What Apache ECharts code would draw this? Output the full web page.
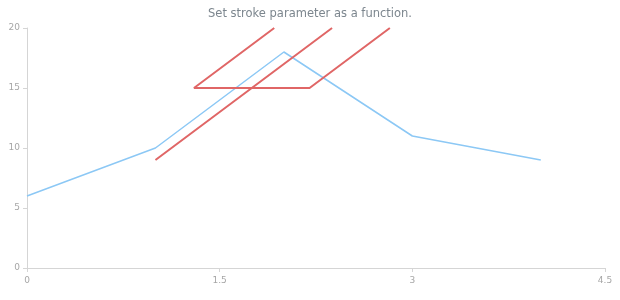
<!DOCTYPE html>
<html>
<head>
<meta charset="utf-8">
<script src="https://cdn.jsdelivr.net/npm/echarts@6/dist/echarts.min.js"></script>
<style>
html,body{margin:0;padding:0;background:#fff;}
#c{width:620px;height:300px;}
</style>
</head>
<body>
<div id="c"></div>
<script>
var titleText = 'Set stroke parameter as a function.';
var xTicks = [0, 1.5, 3, 4.5];
var yTicks = [0, 5, 10, 15, 20];
var blueX = [0, 1, 2, 3, 4];
var blueY = [6, 10, 18, 11, 9];
// red stroke: three pieces separated by gaps (null)
var redX = [1, 2.375, null, 1.925, 1.3, 2.2, 2.825];
var redY = [9, 20, null, 20, 15, 15, 20];

function pairs(xs, ys) {
  return xs.map(function (x, i) {
    return (x === null || ys[i] === null) ? [null, null] : [x, ys[i]];
  });
}

var chart = echarts.init(document.getElementById('c'), null, {renderer: 'canvas'});
chart.setOption({
  animation: false,
  backgroundColor: '#ffffff',
  title: {
    text: titleText,
    left: 'center',
    top: 3,
    textStyle: {fontFamily: 'DejaVu Sans', fontSize: 11.5, fontWeight: 'normal', color: '#7c868e'}
  },
  grid: {left: 27, right: 15, top: 28, bottom: 32, containLabel: false},
  xAxis: {
    type: 'value',
    min: xTicks[0], max: xTicks[xTicks.length - 1], interval: xTicks[1] - xTicks[0],
    axisLine: {show: true, lineStyle: {color: '#d5d5d5', width: 1}},
    axisTick: {show: true, length: 4, lineStyle: {color: '#d5d5d5'}},
    axisLabel: {color: '#a6a6a6', fontSize: 9, fontFamily: 'DejaVu Sans', margin: 8},
    splitLine: {show: false}
  },
  yAxis: {
    type: 'value',
    min: yTicks[0], max: yTicks[yTicks.length - 1], interval: yTicks[1] - yTicks[0],
    axisLine: {show: true, lineStyle: {color: '#d5d5d5', width: 1}},
    axisTick: {show: true, length: 4, lineStyle: {color: '#d5d5d5'}},
    axisLabel: {color: '#a6a6a6', fontSize: 9, fontFamily: 'DejaVu Sans', margin: 7},
    splitLine: {show: false}
  },
  series: [
    {
      type: 'line',
      data: pairs(blueX, blueY),
      showSymbol: false,
      symbol: 'none',
      lineStyle: {color: '#8cc8f5', width: 1.5},
      itemStyle: {color: '#8cc8f5'},
      z: 2
    },
    {
      type: 'line',
      data: pairs(redX, redY),
      showSymbol: false,
      symbol: 'none',
      connectNulls: false,
      lineStyle: {color: '#e06666', width: 2},
      itemStyle: {color: '#e06666'},
      z: 3
    }
  ]
});
</script>
</body>
</html>
